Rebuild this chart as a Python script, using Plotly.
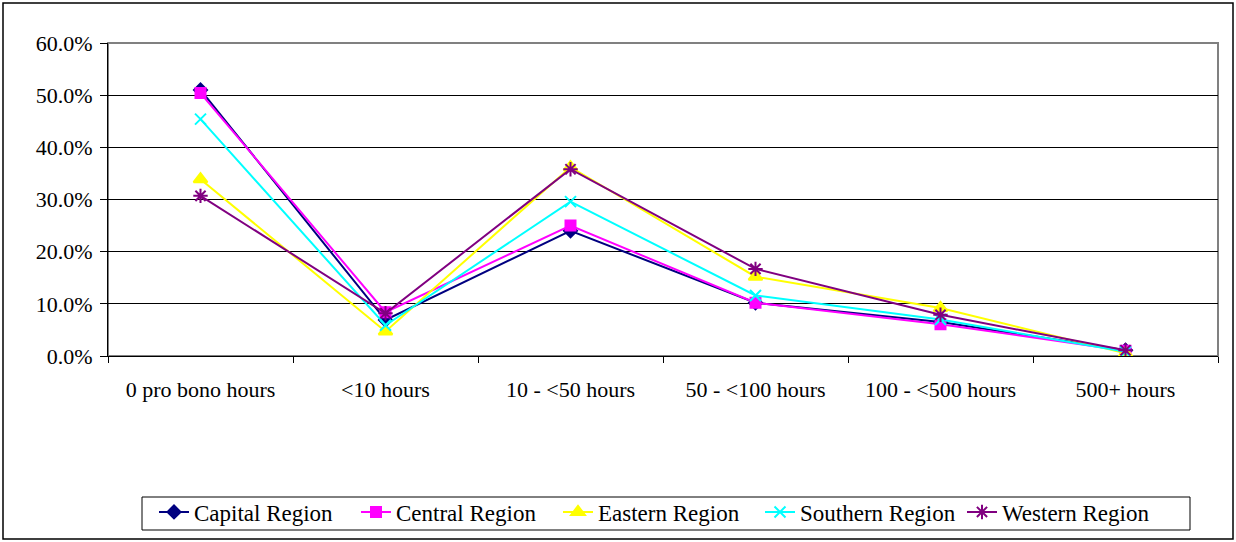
import plotly.graph_objects as go

categories = ["0 pro bono hours", "<10 hours", "10 - <50 hours", "50 - <100 hours", "100 - <500 hours", "500+ hours"]
capital = [51.0, 6.9, 24.0, 10.2, 6.5, 1.1]
central = [50.4, 8.4, 25.0, 10.2, 6.1, 1.0]
eastern = [33.9, 4.7, 36.2, 15.2, 9.2, 0.5]
southern = [45.4, 5.9, 29.6, 11.6, 7.0, 0.8]
western = [30.7, 8.2, 35.8, 16.7, 7.9, 1.1]

series = [
    ("Capital Region", capital, "#000080", "diamond", 10),
    ("Central Region", central, "#FF00FF", "square", 10),
    ("Eastern Region", eastern, "#FFFF00", "triangle-up", 12),
    ("Southern Region", southern, "#00FFFF", "x-thin-open", 11),
    ("Western Region", western, "#800080", "asterisk-open", 12),
]

FONT = "Liberation Serif, Times New Roman, serif"

fig = go.Figure()
for name, vals, color, sym, size in series:
    fig.add_trace(go.Scatter(
        x=categories, y=vals, name=name, mode="lines+markers",
        line=dict(color=color, width=2),
        marker=dict(symbol=sym, size=size, color=color,
                    line=dict(color=color, width=2)),
    ))

L, R, T, B = 108, 1218, 43, 356
W, H = 1236, 542
pw, ph = R - L, B - T

def px(x):
    return (x - L) / pw

def py(y):
    return (B - y) / ph

# outer chart border
fig.add_shape(type="rect", xref="paper", yref="paper",
              x0=px(3), x1=px(1233), y0=py(539), y1=py(3),
              line=dict(color="black", width=1.5), layer="below")
# plot area border
fig.add_shape(type="rect", xref="paper", yref="paper",
              x0=0, x1=1, y0=0, y1=1,
              line=dict(color="#808080", width=2), layer="below")
# legend box
fig.add_shape(type="rect", xref="paper", yref="paper",
              x0=px(142), x1=px(1190), y0=py(530), y1=py(497),
              line=dict(color="black", width=1), layer="below")

fig.update_layout(
    width=W, height=H,
    margin=dict(l=L, r=W - R, t=T, b=H - B, autoexpand=False),
    paper_bgcolor="white", plot_bgcolor="white",
    font=dict(family=FONT, size=22, color="black"),
    showlegend=True,
    legend=dict(
        orientation="h", x=px(154), y=py(512), xanchor="left", yanchor="middle",
        borderwidth=0, bgcolor="rgba(0,0,0,0)", font=dict(family=FONT, size=23),
        itemwidth=30, tracegroupgap=0, entrywidth=157,
    ),
    xaxis=dict(
        type="category", tickson="boundaries", ticks="outside", ticklen=6,
        tickcolor="black", showline=True, linecolor="black", linewidth=1,
        showgrid=False, tickfont=dict(family=FONT, size=22),
        range=[-0.5, 5.5], fixedrange=True, ticklabelstandoff=14,
    ),
    yaxis=dict(
        range=[0, 60], dtick=10, tickformat=".1f", ticksuffix="%",
        ticks="outside", ticklen=7, tickcolor="black",
        showline=True, linecolor="black", linewidth=1,
        showgrid=True, gridcolor="black", gridwidth=1,
        zeroline=False, tickfont=dict(family=FONT, size=22),
        ticklabelstandoff=3,
    ),
)

fig.write_html("out.html")
